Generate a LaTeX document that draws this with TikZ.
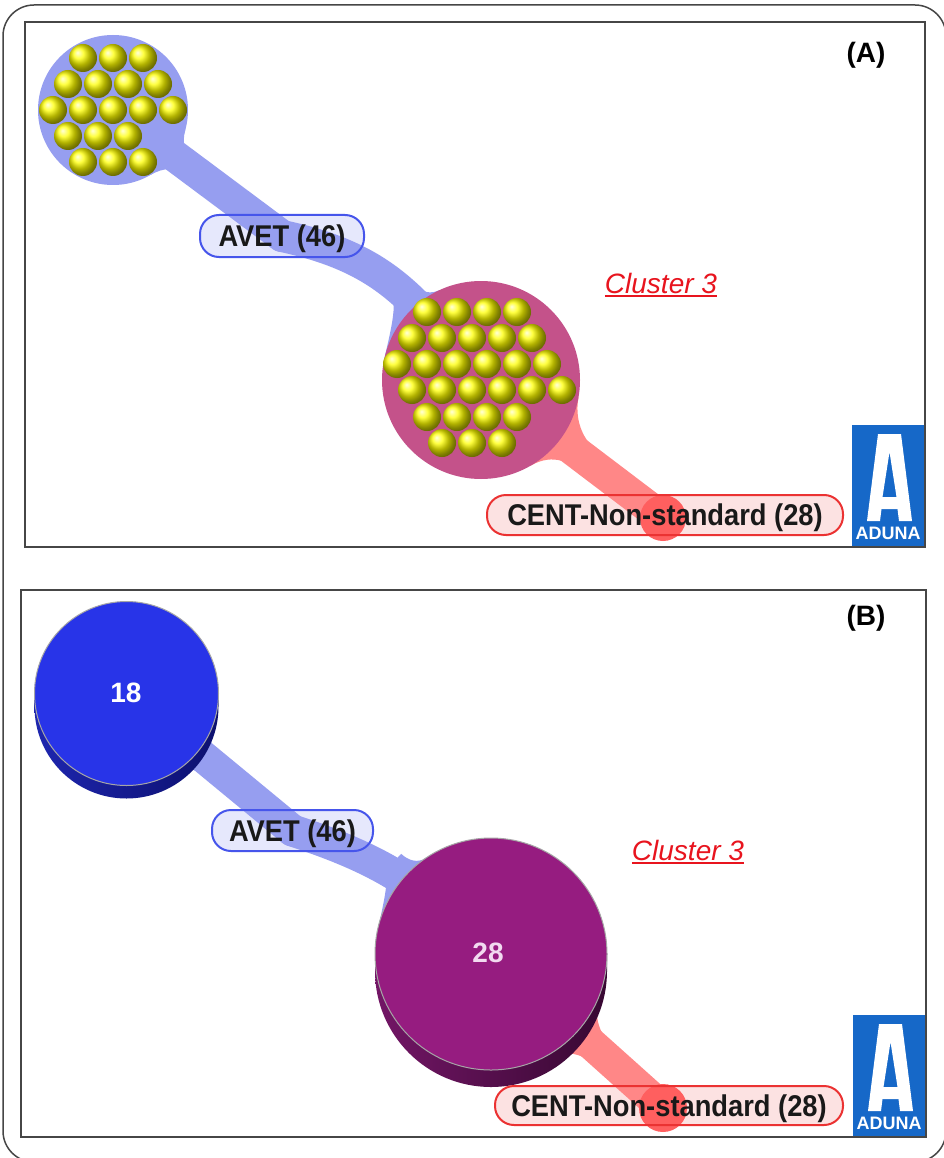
\documentclass[tikz,border=0pt]{standalone}
\usepackage{fontspec}
\setmainfont{Liberation Sans}
\usetikzlibrary{calc}
\definecolor{tubeblue}{RGB}{150,158,240}
\definecolor{tubered}{RGB}{255,135,135}
\definecolor{blobred}{RGB}{255,95,95}
\definecolor{halomix}{RGB}{196,82,138}
\definecolor{avetfill}{RGB}{230,232,252}
\definecolor{avetline}{RGB}{70,85,235}
\definecolor{centfill}{RGB}{252,226,226}
\definecolor{centline}{RGB}{235,50,50}
\definecolor{clusterred}{RGB}{232,20,30}
\definecolor{disk18}{RGB}{40,52,232}
\definecolor{disk18a}{RGB}{30,38,175}
\definecolor{disk18b}{RGB}{12,16,110}
\definecolor{disk28}{RGB}{150,28,128}
\definecolor{disk28a}{RGB}{115,22,102}
\definecolor{disk28b}{RGB}{55,8,50}
\definecolor{numpink}{RGB}{242,218,240}
\definecolor{adunablue}{RGB}{22,104,200}
\definecolor{framegray}{RGB}{70,70,70}
\definecolor{lbltext}{RGB}{25,25,25}
\tikzset{
  tube/.style={draw=#1,line width=32pt,line cap=round},
  lblback/.style={fill=#1fill,rounded corners=19pt},
  lbl/.style={draw=#1line,line width=2pt,rounded corners=19pt,inner sep=0pt,
    text=lbltext,font=\lblfont,text height=22pt,text depth=0.6pt},
  paneltag/.style={font=\fontsize{28pt}{30pt}\selectfont\bfseries,inner sep=0pt,anchor=base},
  cltitle/.style={font=\fontsize{28pt}{30pt}\selectfont\itshape,text=clusterred,inner sep=0pt,anchor=base},
  disknum/.style={font=\fontsize{28pt}{30pt}\selectfont\bfseries,inner sep=0pt,anchor=base},
  yball/.style={ball color=yellow}
}
\newcommand{\lblfont}{\fontsize{30pt}{32pt}\selectfont\bfseries}
\newcommand{\narrow}[1]{\scalebox{0.91}[1]{#1}}
\newcommand{\ulbar}[1]{\setbox0=\hbox{#1}\rlap{\rule[-4pt]{\wd0}{1.8pt}}\box0}
% fillet where a tube joins a cluster: colour, centre, radius, first angle, tube angle, last angle, length
\newcommand{\neck}[7]{%
  \fill[#1] ($(#2)+({#4}:{#3})$)
    .. controls +({#4+90}:{0.6*#7}) and +({#5+180}:{0.5*#7}) .. ($(#2)+({#5}:{#3+#7})+({#5-90}:12)$)
    -- ($(#2)+({#5}:{#3+#7})+({#5+90}:12)$)
    .. controls +({#5+180}:{0.5*#7}) and +({#6-90}:{0.6*#7}) .. ($(#2)+({#6}:{#3})$)
    -- (#2) -- cycle;}
\newcommand{\aduna}[3]{%
  \begin{scope}[shift={(#2,#3)}]
    \fill[adunablue] (0,0) rectangle (72,122);
    \fill[white,even odd rule] (15,96) -- (26,9) -- (49,9) -- (60,96) -- (47,96) -- (45.5,84)
      -- (29.5,84) -- (28,96) -- cycle (30.5,72) -- (37.5,27) -- (44.5,72) -- cycle;
    \node[font=\fontsize{18pt}{18pt}\selectfont\bfseries,text=white,inner sep=0pt,anchor=base] (#1) at (36,114) {ADUNA};
  \end{scope}}

\begin{document}
\begin{tikzpicture}[x=1pt,y=-1pt]
\useasboundingbox (0,0) rectangle (944,1158);
\fill[white] (0,0) rectangle (944,1158);
\draw[framegray,line width=1.5pt,rounded corners=31pt] (3,5) rectangle (946,1162);

% (A) spheres
\coordinate (smallA) at (113,110);
\coordinate (bigA) at (481,380);
\coordinate (avetA) at (282,236);
\coordinate (centA) at (665,515);
\coordinate (blobA) at (663,518);
\fill[lblback=avet] ($(avetA)+(-82,-21)$) rectangle ($(avetA)+(82,21)$);
\fill[lblback=cent] ($(centA)+(-178,-20)$) rectangle ($(centA)+(178,20)$);
\draw[tube=tubeblue] (smallA) -- (avetA);
\draw[tube=tubeblue] (avetA) .. controls +(12:110) and +(230:100) .. (bigA);
\draw[tube=tubered] (bigA) -- (blobA);
\fill[blobred] (blobA) circle (23);
\neck{tubeblue}{smallA}{75}{15}{37}{60}{55}
\neck{tubeblue}{bigA}{99}{190}{229}{245}{24}
\neck{tubered}{bigA}{99}{10}{37}{60}{45}
\fill[tubeblue] (smallA) circle (75);
\fill[halomix] (bigA) circle (99);
\foreach \dy/\xs in {-52/{-30,0,30},-26/{-45,-15,15,45},0/{-60,-30,0,30,60},26/{-45,-15,15},52/{-30,0,30}}
  \foreach \dx in \xs
    \shade[yball] ($(smallA)+(\dx,\dy)$) circle (14);
\coordinate (gridA) at ($(bigA)+(6,-16)$);
\foreach \dy/\xs in {-52/{-60,-30,0,30},-26/{-75,-45,-15,15,45},0/{-90,-60,-30,0,30,60},
    26/{-75,-45,-15,15,45,75},53/{-60,-30,0,30},79/{-45,-15,15}}
  \foreach \dx in \xs
    \shade[yball] ($(gridA)+(\dx,\dy)$) circle (14);

% (B) disks
\coordinate (d18) at (126.5,693.5);
\coordinate (d28) at (491,954);
\coordinate (avetB) at (292.5,830.5);
\coordinate (centB) at (669,1105.5);
\coordinate (blobB) at (663,1108);
\fill[lblback=avet] ($(avetB)+(-80.5,-20.5)$) rectangle ($(avetB)+(80.5,20.5)$);
\fill[lblback=cent] ($(centB)+(-174,-19.5)$) rectangle ($(centB)+(174,19.5)$);
\draw[tube=tubeblue] (d18) -- (avetB);
\draw[tube=tubeblue] (avetB) .. controls +(18:95) and +(225:95) .. (d28);
\draw[tube=tubered] (d28) -- (blobB);
\fill[blobred] (blobB) circle (24);
\neck{tubeblue}{d18}{92}{20}{39}{62}{45}
\neck{tubeblue}{d28}{116}{188}{223}{236}{18}
\neck{tubered}{d28}{116}{20}{42}{64}{40}
\shade[left color=disk18a,right color=disk18b] ($(d18)+(-92,0)$) -- ++(0,13)
  arc[start angle=180,end angle=0,radius=92] -- ++(0,-13) -- cycle;
\fill[disk18,draw=gray!70,line width=1pt] (d18) circle (92);
\shade[left color=disk28a,right color=disk28b] ($(d28)+(-116,0)$) -- ++(0,17)
  arc[start angle=180,end angle=0,radius=116] -- ++(0,-17) -- cycle;
\fill[disk28,draw=gray!70,line width=1pt] (d28) circle (116);
\node[disknum,text=white] (n18) at (126,702) {18};
\node[disknum,text=numpink] (n28) at (488,962) {28};

% class labels
\node[lbl=avet,minimum width=164pt,minimum height=42pt] (avetAlbl) at (avetA) {\narrow{AVET (46)}};
\node[lbl=cent,minimum width=356pt,minimum height=40pt] (centAlbl) at (centA) {\narrow{CENT-Non-standard (28)}};
\node[lbl=avet,minimum width=161pt,minimum height=41pt] (avetBlbl) at (avetB) {\narrow{AVET (46)}};
\node[lbl=cent,minimum width=348pt,minimum height=39pt] (centBlbl) at (centB) {\narrow{CENT-Non-standard (28)}};

\node[cltitle] (clA) at (661,293) {\ulbar{Cluster 3}};
\node[cltitle] (clB) at (688,860) {\ulbar{Cluster 3}};
\node[paneltag] (tagA) at (866,63) {(A)};
\node[paneltag] (tagB) at (866,625) {(B)};
\aduna{logoA}{852}{425}
\aduna{logoB}{853}{1015}

\draw[framegray,line width=2pt] (25,22) rectangle (925,547);
\draw[framegray,line width=2pt] (21,590) rectangle (926,1137);
\end{tikzpicture}
\end{document}
